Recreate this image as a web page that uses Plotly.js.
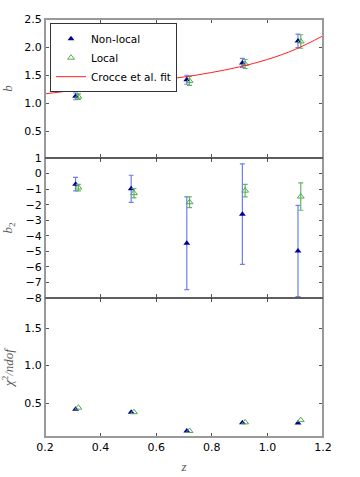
<!DOCTYPE html>
<html>
<head>
<meta charset="utf-8">
<script src="https://cdn.plot.ly/plotly-3.0.1.min.js"></script>
<style>body{margin:0;} #plot{width:360px;height:477px;}</style>
</head>
<body>
<div id="plot"></div>
<script>
// redshifts
var zNonLocal = [0.31, 0.51, 0.71, 0.91, 1.11];
var zLocal = [0.32, 0.52, 0.72, 0.92, 1.12];

// linear bias b
var bNonLocal = [1.125, 1.31, 1.42, 1.72, 2.11];
var bNonLocalErr = [0.06, 0.07, 0.08, 0.08, 0.12];
var bLocal = [1.12, 1.30, 1.40, 1.70, 2.10];
var bLocalErr = [0.05, 0.07, 0.08, 0.08, 0.12];

// Crocce et al. fit
var zFit = [0.2, 0.3, 0.4, 0.5, 0.6, 0.7, 0.8, 0.9, 1.0, 1.1, 1.2];
var bFit = [1.17, 1.23, 1.29, 1.35, 1.41, 1.47, 1.55, 1.65, 1.78, 1.96, 2.20];

// second order bias b2
var b2NonLocal = [-0.68, -0.98, -4.48, -2.61, -4.98];
var b2NonLocalErr = [0.44, 0.87, 2.98, 3.23, 2.93];
var b2Local = [-0.9, -1.26, -1.84, -1.1, -1.48];
var b2LocalErr = [0.21, 0.3, 0.35, 0.4, 0.88];

// reduced chi2
var chiNonLocal = [0.42, 0.38, 0.13, 0.24, 0.235];
var chiLocal = [0.44, 0.38, 0.13, 0.245, 0.275];

var blue = '#00009a';
var blueErr = '#6f7ff0';
var green = '#55aa55';
var greenErr = '#66b366';

function nonLocal(x, y, err, xa, ya, show) {
    var t = {
        x: x, y: y, xaxis: xa, yaxis: ya, type: 'scatter', mode: 'markers',
        name: 'Non-local', legendgroup: 'nl', showlegend: show,
        marker: { symbol: 'triangle-up', size: 6, color: blue }
    };
    if (err) t.error_y = { type: 'data', array: err, color: blueErr, thickness: 1.2, width: 2.5 };
    return t;
}

function local(x, y, err, xa, ya, show) {
    var t = {
        x: x, y: y, xaxis: xa, yaxis: ya, type: 'scatter', mode: 'markers',
        name: 'Local', legendgroup: 'l', showlegend: show,
        marker: { symbol: 'triangle-up-open', size: 6, color: green, line: { width: 1 } }
    };
    if (err) t.error_y = { type: 'data', array: err, color: greenErr, thickness: 1.2, width: 2.5 };
    return t;
}

var data = [
    nonLocal(zNonLocal, bNonLocal, bNonLocalErr, 'x', 'y', true),
    local(zLocal, bLocal, bLocalErr, 'x', 'y', true),
    {
        x: zFit, y: bFit, xaxis: 'x', yaxis: 'y', type: 'scatter', mode: 'lines',
        name: 'Crocce et al. fit', line: { color: '#ff2020', width: 1, shape: 'spline' }
    },
    nonLocal(zNonLocal, b2NonLocal, b2NonLocalErr, 'x2', 'y2', false),
    local(zLocal, b2Local, b2LocalErr, 'x2', 'y2', false),
    nonLocal(zNonLocal, chiNonLocal, null, 'x3', 'y3', false),
    local(zLocal, chiLocal, null, 'x3', 'y3', false)
];

var tickFont = { family: 'DejaVu Sans', size: 11, color: '#000' };
var titleFont = { family: 'Liberation Serif', size: 13, color: '#555' };

function xAxis(anchor, showLabels) {
    return {
        anchor: anchor, range: [0.2, 1.2], dtick: 0.2, tick0: 0.2,
        ticks: 'inside', ticklen: 4, tickcolor: '#555', mirror: 'allticks',
        showline: true, linecolor: '#999', linewidth: 1,
        showgrid: false, zeroline: false, showticklabels: showLabels,
        tickfont: tickFont, tickformat: '.1f'
    };
}

function yAxis(anchor, domain, range, tickvals, fmt, title) {
    return {
        anchor: anchor, domain: domain, range: range, tickvals: tickvals,
        ticks: 'inside', ticklen: 4, tickcolor: '#555', mirror: 'allticks',
        showline: true, linecolor: '#999', linewidth: 1,
        showgrid: false, zeroline: false, tickfont: tickFont, tickformat: fmt,
        title: { text: title, font: titleFont, standoff: 10 }
    };
}

var layout = {
    width: 360, height: 477,
    margin: { l: 45, r: 37, t: 19, b: 40 },
    paper_bgcolor: '#fff', plot_bgcolor: '#fff',
    showlegend: true,
    legend: {
        x: 0.018, y: 0.99, xanchor: 'left', yanchor: 'top',
        bgcolor: '#fff', bordercolor: '#333', borderwidth: 1,
        font: { family: 'DejaVu Sans', size: 10.5, color: '#000' },
        tracegroupgap: 0, itemwidth: 30
    },
    xaxis: xAxis('y', false),
    xaxis2: xAxis('y2', false),
    xaxis3: Object.assign(xAxis('y3', true), {
        title: { text: '<i>z</i>', font: titleFont, standoff: 8 }
    }),
    yaxis: yAxis('x', [0.6675, 1], [0.03, 2.5], [0.5, 1.0, 1.5, 2.0, 2.5], '.1f', '<i>b</i>'),
    yaxis2: yAxis('x2', [0.3325, 0.6675], [-8, 1], [-8, -7, -6, -5, -4, -3, -2, -1, 0, 1], 'd', '<i>b</i><sub>2</sub>'),
    yaxis3: yAxis('x3', [0, 0.3325], [0.05, 1.9], [0.5, 1.0, 1.5], '.1f', '<i>χ</i><sup>2</sup><i>/ndof</i>'),
    shapes: [
        { type: 'rect', xref: 'paper', yref: 'paper', x0: 0, x1: 1, y0: 0, y1: 1, line: { color: '#999', width: 2 } },
        { type: 'line', xref: 'paper', yref: 'paper', x0: 0, x1: 1, y0: 0.6675, y1: 0.6675, line: { color: '#222', width: 1 } },
        { type: 'line', xref: 'paper', yref: 'paper', x0: 0, x1: 1, y0: 0.3325, y1: 0.3325, line: { color: '#222', width: 1 } }
    ]
};

Plotly.newPlot('plot', data, layout, { displayModeBar: false, staticPlot: true });
</script>
</body>
</html>
